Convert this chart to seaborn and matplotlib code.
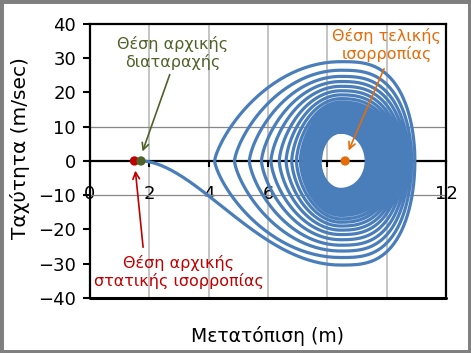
import numpy as np
import matplotlib
matplotlib.use("Agg")
import matplotlib.pyplot as plt
from matplotlib.patches import Rectangle
import seaborn as sns

# Σημεία μηδενισμού ταχύτητας (αριστερά) - το πρώτο είναι η αρχική διαταραχή
left_x = [1.72, 4.20, 4.87, 5.37, 5.78, 6.10, 6.38, 6.61, 6.80, 6.96, 7.09, 7.20, 7.29,
          7.37, 7.44, 7.50, 7.55, 7.59, 7.63, 7.66, 7.69, 7.71, 7.73, 7.75, 7.77]
# Σημεία μηδενισμού ταχύτητας (δεξιά)
right_x = [10.95, 10.84, 10.74, 10.65, 10.56, 10.48, 10.41, 10.34, 10.27, 10.21, 10.15, 10.09,
           10.03, 9.97, 9.91, 9.85, 9.79, 9.72, 9.65, 9.58, 9.51, 9.44, 9.37, 9.31]
# Ελάχιστες ταχύτητες (κάτω τόξα) και μέγιστες (πάνω τόξα)
v_min = [-30.4, -28.2, -26.3, -24.6, -23.0, -21.5, -20.2, -19.0, -17.9, -16.9, -15.9, -15.0,
         -14.2, -13.4, -12.7, -12.0, -11.4, -10.8, -10.3, -9.8, -9.3, -8.9, -8.6, -8.3]
v_max = [29.0, 26.5, 24.7, 23.2, 21.8, 20.5, 19.3, 18.2, 17.2, 16.3, 15.4, 14.6,
         13.8, 13.1, 12.4, 11.8, 11.2, 10.7, 10.2, 9.7, 9.3, 8.9, 8.6, 8.4]
peak_x = 8.45

x_static = 1.5    # αρχική στατική ισορροπία
x_final = 8.6     # τελική ισορροπία


def arc(xa, xb, vp, b_left, a_right, n=60):
    t = np.linspace(0, 1, n)
    xl = xa + (peak_x - xa) * (1 - np.cos(t * np.pi / 2))
    sl = (peak_x - xl) / (peak_x - xa)
    fl = np.clip(1 - sl ** 2, 0, 1) ** b_left
    xr = peak_x + (xb - peak_x) * np.sin(t * np.pi / 2)
    sr = (xr - peak_x) / (xb - peak_x)
    fr = np.clip(1 - sr ** a_right, 0, 1) ** 0.5
    return np.concatenate([xl, xr[1:]]), vp * np.concatenate([fl, fr[1:]])


xs, vs = [], []
for k in range(len(right_x)):
    for vp, xa, xb, rev in [(v_min[k], left_x[k], right_x[k], False),
                            (v_max[k], left_x[k + 1], right_x[k], True)]:
        sc = np.clip((abs(vp) - 8) / 21, 0, 1)
        bl = 1.9 if k == 0 and not rev else 0.5 + 0.25 * sc
        x, v = arc(xa, xb, vp, bl, 2 + sc)
        if rev:
            x, v = x[::-1], v[::-1]
        xs.append(x)
        vs.append(v)
xs = np.concatenate(xs)
vs = np.concatenate(vs)

sns.set_theme(style="white")
plt.rcParams["font.family"] = ["DejaVu Sans"]

fig = plt.figure(figsize=(4.71, 3.53), dpi=100)
ax = fig.add_axes([0.191, 0.156, 0.756, 0.776])

ax.xaxis.grid(True, color="#bfbfbf", lw=1.3)
for g in [10, -10]:
    ax.axhline(g, color="#878787", lw=0.9, zorder=1)

sns.lineplot(x=xs, y=vs, sort=False, estimator=None, color="#4a7ebb", lw=2.3, ax=ax, zorder=3)

sns.scatterplot(x=[x_static], y=[0], color="#c00000", s=45, edgecolor="none", zorder=5, ax=ax)
sns.scatterplot(x=[left_x[0]], y=[0], color="#4f6228", s=45, edgecolor="none", zorder=5, ax=ax)
sns.scatterplot(x=[x_final], y=[0], color="#e46c0a", s=45, edgecolor="none", zorder=5, ax=ax)

ax.set_xlim(0, 12)
ax.set_ylim(-40, 40)
ax.set_xticks(range(0, 13, 2))
ax.set_yticks(range(-40, 41, 10))
ax.spines["bottom"].set_position(("data", 0))
for s in ax.spines.values():
    s.set_color("black")
    s.set_linewidth(1.6)
ax.axhline(-40, color="black", lw=2.2, clip_on=False, zorder=4)
ax.tick_params(axis="x", direction="out", length=4, width=1.5, pad=13, labelsize=13, colors="black")
ax.tick_params(axis="y", direction="out", length=5, width=1.5, pad=5, labelsize=13, colors="black")
ax.tick_params(left=True, bottom=True)

ax.set_xlabel("Μετατόπιση (m)", fontsize=13.5, va="center", color="black")
ax.set_ylabel("Ταχύτητα (m/sec)", fontsize=14.5, va="center", color="black")
ax.xaxis.set_label_coords(0.5, -0.139)
ax.yaxis.set_label_coords(-0.197, 0.547)

# σχόλια
ax.text(2.8, 31.5, "Θέση αρχικής\nδιαταραχής", color="#4f6228", fontsize=11.5,
        ha="center", va="center", linespacing=1.15)
ax.annotate("", xy=(1.74, 2.0), xytext=(2.72, 26.0),
            arrowprops=dict(arrowstyle="->", color="#4f6228", lw=1.2))
ax.text(10.0, 33.9, "Θέση τελικής\nισορροπίας", color="#e46c0a", fontsize=11.5,
        ha="center", va="center", linespacing=1.15)
ax.annotate("", xy=(8.68, 2.3), xytext=(9.95, 27.7),
            arrowprops=dict(arrowstyle="->", color="#e46c0a", lw=1.2))
ax.text(3.0, -32.4, "Θέση αρχικής\nστατικής ισορροπίας", color="#c00000", fontsize=11.5,
        ha="center", va="center", linespacing=1.15)
ax.annotate("", xy=(1.52, -2.0), xytext=(1.8, -26.0),
            arrowprops=dict(arrowstyle="->", color="#c00000", lw=1.2))

fig.patches.append(Rectangle((0, 0), 1, 1, transform=fig.transFigure, fill=False,
                             edgecolor="#7f7f7f", lw=5))

fig.savefig("out.png", dpi=100)
